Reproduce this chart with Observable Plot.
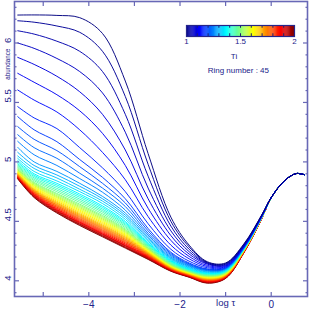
<!DOCTYPE html>
<html><head><meta charset="utf-8">
<script src="https://cdn.jsdelivr.net/npm/d3@7"></script>
<script src="https://cdn.jsdelivr.net/npm/@observablehq/plot@0.6"></script>
<style>
html,body{margin:0;padding:0;background:#fff;}
#wrap{position:relative;width:311px;height:311px;overflow:hidden;}
#legend{position:absolute;left:180px;top:20px;}
svg{display:block;}
</style></head><body><div id="wrap"><div id="chart"></div><div id="legend"></div></div>
<script>
// log tau sample columns for each ring curve
const logTau = [-5.56, -5.2, -4.7, -4.2, -3.7, -3.2, -2.7, -2.2, -1.8, -1.4, -1.0, -0.6, -0.2];
// shared deep part (curves coincide)
const tailLogTau = [0.0, 0.3, 0.55, 0.72];
const tailAbund = [4.70, 4.845, 4.902, 4.893];
// Ti value of each ring (colour)
const ringTi = [1.000,1.023,1.045,1.068,1.091,1.114,1.136,1.159,1.182,1.205,1.227,1.250,1.273,1.295,1.318,1.341,1.364,1.386,1.409,1.432,1.455,1.477,1.500,1.523,1.545,1.568,1.591,1.614,1.636,1.659,1.682,1.705,1.727,1.750,1.773,1.795,1.818,1.841,1.864,1.886,1.909,1.932,1.955,1.977,2.000];
const abundance = [
[6.235,6.236,6.232,6.213,6.08,5.68,5.07,4.535,4.30,4.16,4.15,4.31,4.56],
[6.187,6.175,6.143,6.09,5.93,5.55,4.98,4.50,4.285,4.155,4.145,4.305,4.558],
[6.103,6.075,6.015,5.93,5.76,5.40,4.88,4.46,4.265,4.15,4.14,4.30,4.556],
[6.000,5.955,5.87,5.76,5.58,5.25,4.78,4.42,4.245,4.145,4.135,4.297,4.554],
[5.879,5.82,5.72,5.59,5.40,5.10,4.69,4.38,4.225,4.14,4.13,4.293,4.552],
[5.745,5.67,5.565,5.43,5.24,4.97,4.61,4.34,4.205,4.13,4.125,4.29,4.55],
[5.605,5.52,5.42,5.27,5.08,4.85,4.54,4.30,4.185,4.12,4.12,4.287,4.548],
[5.465,5.37,5.28,5.12,4.95,4.75,4.48,4.265,4.165,4.11,4.115,4.285,4.546],
[5.381,5.27,5.17,5.02,4.87,4.69,4.44,4.24,4.15,4.10,4.11,4.28,4.545],
[5.297,5.19,5.095,4.96,4.82,4.655,4.42,4.23,4.143,4.096,4.108,4.279,4.544],
[5.229,5.12,5.03,4.905,4.78,4.625,4.40,4.22,4.137,4.092,4.105,4.278,4.544],
[5.173,5.06,4.97,4.86,4.745,4.595,4.385,4.21,4.131,4.088,4.102,4.276,4.543],
[5.123,5.00,4.92,4.82,4.71,4.57,4.37,4.20,4.125,4.085,4.10,4.275,4.543],
[5.081,4.97,4.89,4.795,4.69,4.552,4.357,4.192,4.119,4.08,4.096,4.273,4.542],
[5.05,4.945,4.865,4.77,4.67,4.535,4.345,4.185,4.112,4.075,4.092,4.271,4.542],
[5.03,4.92,4.84,4.75,4.65,4.517,4.332,4.177,4.106,4.07,4.089,4.27,4.541],
[5.012,4.90,4.82,4.73,4.63,4.50,4.32,4.17,4.10,4.065,4.085,4.268,4.541],
[4.997,4.888,4.806,4.716,4.617,4.489,4.313,4.165,4.097,4.062,4.083,4.267,4.541],
[4.985,4.877,4.792,4.702,4.603,4.478,4.307,4.16,4.093,4.058,4.08,4.265,4.540],
[4.974,4.865,4.777,4.687,4.59,4.468,4.30,4.155,4.09,4.055,4.078,4.264,4.540],
[4.964,4.853,4.763,4.673,4.577,4.457,4.293,4.15,4.087,4.052,4.075,4.263,4.539],
[4.955,4.842,4.749,4.659,4.563,4.446,4.287,4.145,4.083,4.048,4.073,4.261,4.539],
[4.947,4.83,4.735,4.645,4.55,4.435,4.28,4.14,4.08,4.045,4.07,4.26,4.538],
[4.94,4.822,4.726,4.635,4.54,4.427,4.275,4.137,4.078,4.042,4.068,4.259,4.538],
[4.934,4.815,4.716,4.625,4.53,4.419,4.27,4.134,4.075,4.039,4.065,4.258,4.537],
[4.928,4.807,4.707,4.615,4.52,4.411,4.265,4.131,4.073,4.036,4.063,4.257,4.537],
[4.923,4.80,4.698,4.605,4.51,4.403,4.26,4.128,4.07,4.033,4.06,4.256,4.537],
[4.918,4.792,4.688,4.595,4.50,4.394,4.255,4.124,4.068,4.029,4.058,4.255,4.536],
[4.913,4.785,4.679,4.585,4.49,4.386,4.25,4.121,4.065,4.026,4.055,4.254,4.536],
[4.908,4.777,4.669,4.575,4.48,4.378,4.245,4.118,4.063,4.023,4.053,4.253,4.535],
[4.904,4.77,4.66,4.565,4.47,4.37,4.24,4.115,4.06,4.02,4.05,4.252,4.535],
[4.90,4.765,4.653,4.557,4.462,4.363,4.236,4.113,4.058,4.017,4.048,4.251,4.535],
[4.896,4.76,4.646,4.549,4.454,4.355,4.231,4.11,4.056,4.014,4.045,4.25,4.534],
[4.892,4.755,4.639,4.541,4.446,4.348,4.227,4.108,4.054,4.011,4.043,4.249,4.534],
[4.888,4.75,4.633,4.533,4.438,4.34,4.223,4.105,4.052,4.009,4.041,4.248,4.534],
[4.885,4.745,4.626,4.524,4.429,4.333,4.218,4.103,4.049,4.006,4.039,4.246,4.533],
[4.882,4.74,4.619,4.516,4.421,4.325,4.214,4.10,4.047,4.003,4.037,4.245,4.533],
[4.879,4.735,4.612,4.508,4.413,4.318,4.209,4.098,4.045,4.0,4.034,4.244,4.532],
[4.876,4.73,4.605,4.50,4.405,4.31,4.205,4.095,4.043,3.997,4.032,4.243,4.532],
[4.873,4.725,4.599,4.494,4.399,4.304,4.201,4.093,4.041,3.994,4.03,4.242,4.532],
[4.87,4.72,4.593,4.488,4.393,4.298,4.197,4.09,4.039,3.991,4.028,4.24,4.531],
[4.867,4.715,4.588,4.483,4.388,4.293,4.193,4.088,4.037,3.989,4.026,4.239,4.531],
[4.864,4.71,4.582,4.477,4.382,4.287,4.188,4.085,4.034,3.986,4.024,4.238,4.531],
[4.861,4.705,4.576,4.471,4.376,4.281,4.184,4.083,4.032,3.983,4.022,4.236,4.530],
[4.857,4.70,4.57,4.465,4.37,4.275,4.18,4.08,4.03,3.98,4.02,4.235,4.53]
];
const xTicks = [-5, -4, -3, -2, -1, 0];
const xLabels = [-4, -2, 0];
const yMajor = [4, 4.5, 5, 5.5, 6];
const yMinor = [3.9,4.1,4.2,4.3,4.4,4.6,4.7,4.8,4.9,5.1,5.2,5.3,5.4,5.6,5.7,5.8,5.9,6.1,6.2,6.3];
const cbTicks = [1.1,1.2,1.3,1.4,1.5,1.6,1.7,1.8,1.9];
const cbLabels = [1, 1.5, 2];
const jet = ["#00007f","#0000ff","#007fff","#00ffff","#7fff7f","#ffff00","#ff7f00","#ff0000","#7f0000"];

const frameColor = "#6868b6";
const textColor = "#22228a";
const font = "'Liberation Sans', Arial, sans-serif";
const colorScale = {type: "linear", domain: [1, 2], interpolate: d3.piecewise(d3.interpolateRgb, jet)};
const minus = d => (d < 0 ? "\u2212" + Math.abs(d) : String(d));
const blank = () => "";

// build the long table (draw last ring first so ring 1 stays on top)
const rows = [];
for (let i = abundance.length - 1; i >= 0; i--) {
  abundance[i].forEach((v, j) => rows.push({ring: i + 1, ti: ringTi[i], x: logTau[j], y: v}));
  tailAbund.forEach((v, j) => rows.push({ring: i + 1, ti: ringTi[i], x: tailLogTau[j], y: v}));
}

const tickOpts = {tickFormat: blank, stroke: frameColor, strokeWidth: 1.2, label: null};
const chart = Plot.plot({
  width: 311, height: 311,
  marginLeft: 14, marginRight: 4, marginTop: 1, marginBottom: 15,
  x: {domain: [-5.63, 0.796]},
  y: {domain: [3.868, 6.349]},
  color: colorScale,
  style: {fontFamily: font, background: "#fff", color: textColor},
  marks: [
    Plot.line(rows, {x: "x", y: "y", z: "ring", stroke: "ti", strokeWidth: 0.95, curve: "catmull-rom"}),
    // inward ticks on all four sides
    Plot.axisX({anchor: "bottom", ticks: xTicks, tickSize: 4, dy: -4, ...tickOpts}),
    Plot.axisX({anchor: "top", ticks: xTicks, tickSize: 4, dy: 4, ...tickOpts}),
    Plot.axisY({anchor: "left", ticks: yMajor, tickSize: 5, dx: 5, ...tickOpts}),
    Plot.axisY({anchor: "left", ticks: yMinor, tickSize: 2.5, dx: 2.5, ...tickOpts}),
    Plot.axisY({anchor: "right", ticks: yMajor, tickSize: 5, dx: -5, ...tickOpts}),
    Plot.axisY({anchor: "right", ticks: yMinor, tickSize: 2.5, dx: -2.5, ...tickOpts}),
    Plot.frame({stroke: frameColor, strokeWidth: 1.6}),
    // tick labels
    Plot.axisX({anchor: "bottom", ticks: xLabels, tickSize: 0, tickPadding: 4, fontSize: 10, fill: textColor, tickFormat: minus, label: null}),
    Plot.text(["log τ"], {x: -1, frameAnchor: "bottom", dy: 9, text: d => d, fontSize: 9.5, fill: textColor}),
    Plot.text(yMajor, {y: d => d, frameAnchor: "left", dx: -7, rotate: -90, text: d => String(d), fontSize: 9.5, fill: textColor}),
    Plot.text(["abundance"], {y: 5.69, frameAnchor: "left", dx: -7, rotate: -90, text: d => d, fontSize: 6.3, fill: textColor})
  ]
});
document.getElementById("chart").append(chart);

// colour bar legend
const ramp = d3.range(1, 2, 0.01);
const legend = Plot.plot({
  width: 120, height: 60,
  marginLeft: 6, marginRight: 6, marginTop: 5, marginBottom: 44,
  x: {domain: [1, 2], axis: null},
  y: {domain: [0, 1], axis: null},
  color: colorScale,
  style: {fontFamily: font, background: "transparent", color: textColor, overflow: "visible"},
  marks: [
    Plot.rect(ramp, {x1: d => d, x2: d => d + 0.012, y1: 0, y2: 1, fill: d => d + 0.005}),
    Plot.ruleX(cbTicks, {y1: 0.75, y2: 1, stroke: "#202070", strokeWidth: 1}),
    Plot.ruleX(cbTicks, {y1: 0, y2: 0.25, stroke: "#202070", strokeWidth: 1}),
    Plot.frame({stroke: "#25258a", strokeWidth: 1.2}),
    Plot.text(cbLabels, {x: d => d, frameAnchor: "bottom", dy: 7, text: d => String(d), fontSize: 8, fill: textColor}),
    Plot.text(["Ti"], {x: 1.44, frameAnchor: "bottom", dy: 22, text: d => d, fontSize: 8, fill: textColor}),
    Plot.text(["Ring number : 45"], {x: 1.48, frameAnchor: "bottom", dy: 36, text: d => d, fontSize: 8, fill: textColor})
  ]
});
document.getElementById("legend").append(legend);
</script></body></html>
